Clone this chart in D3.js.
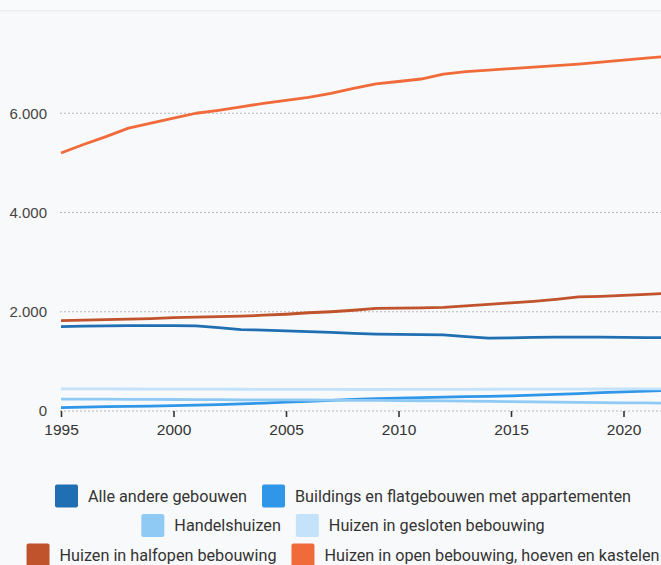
<!DOCTYPE html>
<html>
<head>
<meta charset="utf-8">
<script src="https://cdn.jsdelivr.net/npm/d3@7/dist/d3.min.js"></script>
<style>
  html, body { margin: 0; padding: 0; background: #f8f9fa; overflow: hidden; width: 661px; height: 565px; }
  svg { display: block; font-family: Roboto, "Noto Sans", sans-serif; }
</style>
</head>
<body>
<svg id="chart" width="686" height="565"></svg>
<script>
const years = d3.range(1995, 2023);
const seriesNames = [
  "Alle andere gebouwen",
  "Buildings en flatgebouwen met appartementen",
  "Handelshuizen",
  "Huizen in gesloten bebouwing",
  "Huizen in halfopen bebouwing",
  "Huizen in open bebouwing, hoeven en kastelen"
];
const seriesColors = ["#1f6fb2", "#2f96e8", "#8fcaf5", "#c4e2fa", "#c0532b", "#f06a3a"];

const alleAndere = [1700,1710,1715,1720,1720,1720,1715,1680,1640,1630,1615,1600,1585,1565,1550,1545,1540,1535,1500,1470,1475,1485,1490,1490,1490,1485,1480,1480];
const buildings  = [70,80,90,95,100,110,120,130,145,160,180,195,215,235,250,260,270,280,290,295,305,320,335,350,370,385,400,420];
const handels    = [240,240,238,236,234,232,230,228,226,225,224,222,220,216,213,210,207,203,199,195,190,185,180,175,170,165,162,160];
const gesloten   = [445,445,444,443,442,441,440,439,438,437,436,435,434,433,433,434,435,436,437,438,439,440,441,442,443,444,445,446];
const halfopen   = [1820,1830,1840,1850,1860,1880,1890,1900,1910,1930,1950,1980,2000,2030,2070,2075,2080,2090,2120,2150,2180,2210,2250,2300,2310,2330,2350,2370];
const openBeb    = [5200,5370,5530,5700,5800,5900,6000,6060,6130,6200,6260,6320,6400,6500,6590,6640,6690,6790,6840,6870,6900,6930,6960,6990,7030,7070,7110,7150];

const seriesValues = [alleAndere, buildings, handels, gesloten, halfopen, openBeb];
const yTicks = [0, 2000, 4000, 6000];
const xTicks = [1995, 2000, 2005, 2010, 2015, 2020];

const svg = d3.select("#chart");
const W = 686;

// top band
svg.append("rect").attr("x", 0).attr("y", 0).attr("width", W).attr("height", 10).attr("fill", "#f9fafb");
svg.append("rect").attr("x", 0).attr("y", 10).attr("width", W).attr("height", 1.5).attr("fill", "#eceef0");

const x = d3.scaleLinear().domain([1995, 2022]).range([61, 668.5]);
const y = d3.scaleLinear().domain([0, 8000]).range([411, 14]);

const fmt = v => d3.format(",")(v).replace(/,/g, ".");

// grid
const grid = svg.append("g");
grid.selectAll("line").data(yTicks).join("line")
  .attr("x1", 60).attr("x2", W)
  .attr("y1", d => y(d)).attr("y2", d => y(d))
  .attr("stroke", "#b8b8b8").attr("stroke-width", 1.2)
  .attr("stroke-dasharray", "2,2");

// y axis labels
const yAxis = d3.axisLeft(y).tickValues(yTicks).tickFormat(fmt).tickSize(0).tickPadding(0);
const gy = svg.append("g").attr("transform", "translate(47,0)").call(yAxis);
gy.select(".domain").remove();
gy.selectAll("text").attr("fill", "#444").style("font-size", "15px").attr("dy", "0.32em");

// x axis
const xAxis = d3.axisBottom(x).tickValues(xTicks).tickFormat(d3.format("d")).tickSize(6).tickPadding(7);
const gx = svg.append("g").attr("transform", "translate(0,411)").call(xAxis);
gx.select(".domain").remove();
gx.selectAll(".tick line").attr("stroke", "#333").attr("stroke-width", 1.6);
gx.selectAll("text").attr("fill", "#333").style("font-size", "15.5px");

// lines
const line = d3.line().x((d, i) => x(years[i])).y(d => y(d));
svg.append("g").selectAll("path").data(seriesValues).join("path")
  .attr("d", d => line(d))
  .attr("fill", "none")
  .attr("stroke", (d, i) => seriesColors[i])
  .attr("stroke-width", 2.8)
  .attr("stroke-linejoin", "round");

// legend
const rows = [[0, 1], [2, 3], [4, 5]];
const rowY = [496, 525.5, 555];
const sw = 23, gapText = 10, gapItem = 15, fs = 16.2;
const legend = svg.append("g");
rows.forEach((row, r) => {
  const g = legend.append("g");
  let cx = 0;
  row.forEach(i => {
    g.append("rect").attr("x", cx).attr("y", rowY[r] - sw / 2).attr("width", sw).attr("height", sw)
      .attr("rx", 2).attr("fill", seriesColors[i]);
    const t = g.append("text").attr("x", cx + sw + gapText).attr("y", rowY[r]).attr("dy", "0.35em")
      .attr("fill", "#333").style("font-size", fs + "px").text(seriesNames[i]);
    const tw = t.node().getComputedTextLength();
    cx += sw + gapText + tw + gapItem;
  });
  const total = cx - gapItem;
  g.attr("transform", `translate(${343 - total / 2},0)`);
});
</script>
</body>
</html>
